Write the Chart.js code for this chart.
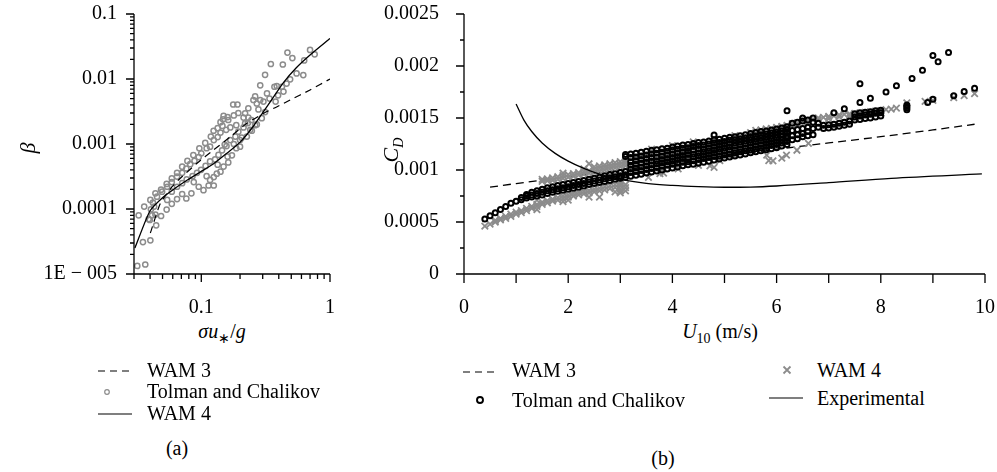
<!DOCTYPE html>
<html><head><meta charset="utf-8">
<script src="https://cdn.jsdelivr.net/npm/chart.js@4.4.1/dist/chart.umd.min.js"></script>
<style>
html,body{margin:0;padding:0;background:#fff;}
body{width:997px;height:472px;position:relative;overflow:hidden;font-family:"Liberation Serif",serif;color:#000;}
canvas{position:absolute;top:0;}
.t{position:absolute;font-family:"Liberation Serif",serif;font-size:20px;line-height:20px;white-space:nowrap;}
.ctr{transform:translateX(-50%);}
.rot{transform:translate(-50%,-50%) rotate(-90deg);font-size:22px;line-height:22px;}
.sub{font-size:14px;position:relative;top:5px;}
svg{position:absolute;overflow:visible;}
</style></head><body>
<canvas id="ca" width="360" height="320" style="left:0px"></canvas>
<canvas id="cb" width="627" height="320" style="left:370px"></canvas>

<div class="t rot" style="left:28px;top:148px;"><i>β</i></div>
<div class="t ctr" style="left:222px;top:321px;"><i>σu</i><span class="sub">∗</span>/<i>g</i></div>
<div class="t rot" style="left:392px;top:150px;"><i>C</i><span class="sub"><i>D</i></span></div>
<div class="t ctr" style="left:720px;top:321px;"><i>U</i><span class="sub">10</span> (m/s)</div>

<svg style="left:0;top:0" width="1" height="1">
  <line x1="98" y1="371" x2="132" y2="371" stroke="#000" stroke-width="1.2" stroke-dasharray="7,5"/>
  <circle cx="107" cy="392" r="2.3" fill="none" stroke="#8c8c8c" stroke-width="1.2"/>
  <line x1="98" y1="414" x2="132" y2="414" stroke="#000" stroke-width="1.2"/>
  <line x1="463" y1="372" x2="497" y2="372" stroke="#000" stroke-width="1.2" stroke-dasharray="7,5"/>
  <circle cx="480" cy="400" r="3" fill="none" stroke="#000" stroke-width="1.9"/>
  <path d="M783.5 366.5 L790.5 373.5 M790.5 366.5 L783.5 373.5" stroke="#8c8c8c" stroke-width="1.8"/>
  <line x1="769" y1="398" x2="803" y2="398" stroke="#000" stroke-width="1.2"/>
</svg>
<div class="t" style="left:147px;top:360px;">WAM 3</div>
<div class="t" style="left:147px;top:381px;">Tolman and Chalikov</div>
<div class="t" style="left:147px;top:403px;">WAM 4</div>
<div class="t ctr" style="left:177px;top:438px;">(a)</div>
<div class="t" style="left:512px;top:360px;">WAM 3</div>
<div class="t" style="left:512px;top:390px;">Tolman and Chalikov</div>
<div class="t" style="left:817px;top:360px;">WAM 4</div>
<div class="t" style="left:817px;top:388px;">Experimental</div>
<div class="t ctr" style="left:663px;top:448px;">(b)</div>

<script>
// ---------- Panel (a): growth parameter beta vs sigma u*/g ----------
const aXMin = 0.03, aXMax = 1, aYMin = 1e-5, aYMax = 0.1;
const aXLabelValues = [0.1, 1];
const aXLabels = ['0.1', '1'];
const aYLabelValues = [1e-5, 1e-4, 1e-3, 1e-2, 0.1];
const aYLabels = ['1E − 005', '0.0001', '0.001', '0.01', '0.1'];

const aWam3X = [0.0402,0.0481,0.0593,0.0687,0.0926,0.1245,0.168,0.226,0.308,0.388,0.49,0.70,1.0];
const aWam3Y = [4.27e-5,1.22e-4,2.2e-4,2.97e-4,5.05e-4,8.09e-4,1.29e-3,2.08e-3,3.0e-3,3.75e-3,4.75e-3,6.78e-3,0.01];

const aWam4X = [0.0305,0.0399,0.0507,0.0629,0.0779,0.0982,0.1239,0.159,0.2006,0.253,0.3025,0.355,0.432,0.545,0.70,1.0];
const aWam4Y = [2.51e-5,9.31e-5,1.53e-4,2.1e-4,2.79e-4,3.71e-4,4.92e-4,7.28e-4,1.07e-3,1.86e-3,3.1e-3,4.92e-3,8.67e-3,0.01476,0.0234,0.042];

const aTcPoints = [
[0.0318,1.33e-5],[0.0367,1.4e-5],[0.0352,3.1e-5],[0.0402,3.3e-5],[0.0326,8.0e-5],[0.036,1.09e-4],
[0.039,7.0e-5],[0.0402,1.38e-4],[0.0398,6.8e-5],[0.044,8.2e-5],[0.0446,5.6e-5],[0.044,1.74e-4],
[0.0487,1.98e-4],[0.0538,2.43e-4],[0.059,2.95e-4],[0.0648,3.6e-4],[0.071,4.48e-4],[0.078,5.5e-4],
[0.0867,6.75e-4],[0.0966,8.6e-4],[0.1073,1.04e-3],[0.1186,1.3e-3],[0.1246,1.6e-3],[0.146,1.9e-3],
[0.1475,2.4e-3],[0.16,2.6e-3],[0.177,4.05e-3],[0.191,4.05e-3],[0.194,3.0e-3],[0.219,2.96e-3],
[0.232,3.55e-3],[0.262,5.4e-3],[0.287,8.0e-3],[0.313,1.16e-2],[0.347,1.7e-2],[0.386,7.8e-3],
[0.43,1.67e-2],[0.467,2.55e-2],[0.51,2.1e-2],[0.70,2.8e-2],[0.76,2.4e-2],[0.63,1.93e-2],
[0.55,1.22e-2],[0.62,1.15e-2],[0.49,9.9e-3],[0.46,8.5e-3],[0.435,6.4e-3],[0.395,5.6e-3],
[0.37,7.6e-3],[0.423,7.6e-3],[0.378,4.5e-3],[0.339,5.0e-3],[0.324,6.0e-3],[0.304,4.5e-3],
[0.287,4.75e-3],[0.27,4.2e-3],[0.254,4.75e-3],[0.278,3.4e-3],[0.313,3.1e-3],[0.295,2.5e-3],
[0.27,2.0e-3],[0.247,1.6e-3],[0.226,1.3e-3],[0.2,1.15e-3],[0.2,9.1e-4],[0.187,8.6e-4],
[0.173,6.7e-4],[0.16,6.4e-4],[0.162,5.2e-4],[0.149,4.5e-4],[0.141,3.75e-4],[0.132,3.5e-4],
[0.125,3.1e-4],[0.117,2.8e-4],[0.114,2.3e-4],[0.104,1.95e-4],[0.0955,2.2e-4],[0.0874,2.6e-4],
[0.0838,1.74e-4],[0.0765,1.45e-4],[0.071,1.7e-4],[0.0648,1.42e-4],[0.059,1.2e-4],[0.0538,9.8e-5],
[0.0487,7.8e-5],[0.0543,1.38e-4],[0.059,1.85e-4],[0.0648,2.2e-4],[0.071,2.5e-4],[0.077,2.85e-4],
[0.0855,3.2e-4],[0.0926,3.6e-4],[0.0995,4.0e-4],[0.108,4.6e-4],[0.117,5.4e-4],[0.128,5.8e-4],
[0.136,6.8e-4],[0.145,8.0e-4],[0.157,9.3e-4],[0.168,1.15e-3],[0.184,1.3e-3],[0.194,1.55e-3],
[0.213,1.8e-3],[0.23,2.1e-3],[0.245,2.34e-3],[0.213,2.55e-3],[0.232,2.55e-3],[0.219,2.08e-3],
[0.187,1.95e-3],[0.168,1.8e-3],[0.156,1.65e-3],[0.141,1.5e-3],[0.134,1.28e-3],[0.125,1.15e-3],
[0.117,9.1e-4],[0.11,8.6e-4],[0.1,7.2e-4],[0.0955,6.3e-4],[0.0885,5.5e-4],[0.082,4.9e-4],
[0.0765,4.2e-4],[0.071,3.6e-4],[0.0648,3.15e-4],[0.059,2.6e-4],[0.0543,2.2e-4],[0.0496,1.85e-4],
[0.0453,1.55e-4],[0.0421,1.25e-4],[0.0406,9.9e-5],[0.043,1.09e-4],[0.0414,8.0e-5],[0.149,2.7e-3],
[0.141,2.17e-3],[0.162,2.34e-3],[0.179,2.75e-3],[0.134,1.75e-3],[0.152,9.8e-4],[0.179,1.0e-3],
[0.206,1.25e-3],[0.24,1.65e-3],[0.262,1.95e-3],[0.125,2.3e-4],[0.11,3.2e-4],[0.134,4.8e-4]
];

// ---------- Panel (b): drag coefficient vs U10 ----------
const bXMin = 0, bXMax = 10, bYMin = 0, bYMax = 0.0025;
const bXLabelValues = [0, 2, 4, 6, 8, 10];
const bXLabels = ['0', '2', '4', '6', '8', '10'];
const bYLabelValues = [0, 0.0005, 0.001, 0.0015, 0.002, 0.0025];
const bYLabels = ['0', '0.0005', '0.001', '0.0015', '0.002', '0.0025'];

const bWam3U = [0.5,1,2,3,4,5,6,7,8,9,9.8];
const bWam3Cd = [8.35e-4,8.7e-4,9.35e-4,1.0e-3,1.06e-3,1.13e-3,1.2e-3,1.26e-3,1.32e-3,1.385e-3,1.44e-3];

const bExpU = [1.0,1.15,1.3,1.5,1.75,2.0,2.3,2.6,3.0,3.5,4.0,4.5,5.0,5.5,6.0,7.0,8.2,9.94];
const bExpCd = [1.635e-3,1.48e-3,1.37e-3,1.26e-3,1.16e-3,1.085e-3,1.015e-3,9.6e-4,9.1e-4,8.72e-4,8.52e-4,8.4e-4,8.34e-4,8.36e-4,8.46e-4,8.78e-4,9.2e-4,9.62e-4];

// each column: [U10, Cd, Cd, ...]
const bTcColumns = [
[0.4,5.3e-4],[0.5,5.6e-4],[0.6,5.9e-4],[0.7,6.2e-4],[0.8,6.5e-4],[0.9,6.8e-4],[1.0,7.0e-4],
[1.1,7.15e-4,7.35e-4],[1.2,7.3e-4,7.5e-4,7.65e-4],[1.3,7.4e-4,7.6e-4,7.85e-4],
[1.4,7.5e-4,7.75e-4,8.0e-4],[1.5,7.6e-4,7.85e-4,8.15e-4],[1.6,7.75e-4,8.0e-4,8.3e-4],
[1.7,7.85e-4,8.1e-4,8.4e-4],[1.8,7.95e-4,8.2e-4,8.5e-4],[1.9,8.05e-4,8.3e-4,8.6e-4],
[2.0,8.15e-4,8.4e-4,8.7e-4],[2.1,8.25e-4,8.5e-4,8.8e-4],[2.2,8.35e-4,8.6e-4,8.9e-4],
[2.3,8.45e-4,8.7e-4,9.0e-4],[2.4,8.6e-4,8.85e-4,9.1e-4],[2.5,8.7e-4,8.95e-4,9.2e-4],
[2.6,8.8e-4,9.05e-4,9.3e-4],[2.7,8.9e-4,9.15e-4,9.45e-4],[2.8,9.0e-4,9.25e-4,9.55e-4],
[2.9,9.1e-4,9.35e-4,9.65e-4],[3.0,9.2e-4,9.45e-4,9.75e-4],[3.1,9.3e-4,9.55e-4,9.85e-4,1.13e-3,1.15e-3],
[3.2,9.4e-4,9.75e-4,1.01e-3,1.045e-3,1.08e-3,1.12e-3,1.155e-3],
[3.3,9.5e-4,9.85e-4,1.02e-3,1.055e-3,1.09e-3,1.125e-3,1.16e-3],
[3.4,9.6e-4,9.95e-4,1.03e-3,1.065e-3,1.1e-3,1.135e-3,1.17e-3],
[3.5,9.7e-4,1.005e-3,1.04e-3,1.075e-3,1.11e-3,1.145e-3,1.18e-3],
[3.6,9.8e-4,1.015e-3,1.05e-3,1.085e-3,1.12e-3,1.155e-3,1.19e-3],
[3.7,9.9e-4,1.025e-3,1.06e-3,1.09e-3,1.125e-3,1.16e-3,1.195e-3],
[3.8,1.0e-3,1.035e-3,1.07e-3,1.1e-3,1.135e-3,1.17e-3,1.205e-3],
[3.9,1.01e-3,1.045e-3,1.08e-3,1.11e-3,1.145e-3,1.18e-3,1.21e-3],
[4.0,1.02e-3,1.055e-3,1.09e-3,1.12e-3,1.155e-3,1.19e-3,1.22e-3],
[4.1,1.03e-3,1.065e-3,1.1e-3,1.13e-3,1.165e-3,1.2e-3,1.23e-3],
[4.2,1.04e-3,1.075e-3,1.11e-3,1.14e-3,1.175e-3,1.21e-3,1.24e-3],
[4.3,1.05e-3,1.08e-3,1.115e-3,1.15e-3,1.18e-3,1.215e-3,1.245e-3],
[4.4,1.055e-3,1.09e-3,1.125e-3,1.155e-3,1.19e-3,1.225e-3,1.255e-3],
[4.5,1.065e-3,1.1e-3,1.135e-3,1.165e-3,1.2e-3,1.235e-3,1.265e-3],
[4.6,1.075e-3,1.11e-3,1.14e-3,1.175e-3,1.205e-3,1.24e-3,1.27e-3],
[4.7,1.085e-3,1.12e-3,1.15e-3,1.185e-3,1.215e-3,1.25e-3,1.28e-3],
[4.8,1.095e-3,1.13e-3,1.16e-3,1.195e-3,1.225e-3,1.26e-3,1.29e-3,1.336e-3],
[4.9,1.105e-3,1.135e-3,1.17e-3,1.2e-3,1.235e-3,1.265e-3,1.295e-3],
[5.0,1.115e-3,1.145e-3,1.18e-3,1.21e-3,1.245e-3,1.275e-3,1.305e-3],
[5.1,1.125e-3,1.155e-3,1.19e-3,1.22e-3,1.255e-3,1.285e-3,1.315e-3],
[5.2,1.135e-3,1.165e-3,1.195e-3,1.23e-3,1.26e-3,1.29e-3,1.32e-3],
[5.3,1.145e-3,1.175e-3,1.205e-3,1.24e-3,1.27e-3,1.3e-3,1.33e-3],
[5.4,1.155e-3,1.185e-3,1.215e-3,1.25e-3,1.28e-3,1.31e-3,1.34e-3],
[5.5,1.165e-3,1.195e-3,1.225e-3,1.26e-3,1.29e-3,1.32e-3,1.35e-3],
[5.6,1.175e-3,1.205e-3,1.235e-3,1.27e-3,1.3e-3,1.33e-3,1.36e-3],
[5.7,1.185e-3,1.215e-3,1.245e-3,1.28e-3,1.31e-3,1.34e-3,1.37e-3],
[5.8,1.195e-3,1.225e-3,1.255e-3,1.285e-3,1.315e-3,1.345e-3,1.375e-3],
[5.9,1.205e-3,1.235e-3,1.265e-3,1.295e-3,1.325e-3,1.355e-3,1.385e-3],
[6.0,1.215e-3,1.245e-3,1.275e-3,1.305e-3,1.335e-3,1.365e-3,1.395e-3],
[6.1,1.23e-3,1.26e-3,1.29e-3,1.32e-3,1.345e-3,1.375e-3,1.405e-3],
[6.2,1.245e-3,1.275e-3,1.305e-3,1.33e-3,1.36e-3,1.39e-3,1.415e-3,1.57e-3],
[6.3,1.29e-3,1.33e-3,1.38e-3,1.45e-3],[6.4,1.3e-3,1.34e-3,1.39e-3,1.46e-3],
[6.5,1.32e-3,1.35e-3,1.4e-3,1.47e-3,1.5e-3],[6.6,1.33e-3,1.37e-3,1.41e-3,1.48e-3],
[6.7,1.34e-3,1.4e-3,1.46e-3,1.5e-3],[6.8,1.41e-3,1.45e-3],[6.9,1.4e-3,1.43e-3],
[7.0,1.405e-3,1.435e-3],[7.1,1.41e-3,1.44e-3,1.55e-3],[7.2,1.42e-3,1.45e-3],
[7.3,1.43e-3,1.46e-3,1.59e-3],[7.4,1.44e-3,1.47e-3],[7.5,1.48e-3,1.51e-3,1.54e-3],
[7.6,1.485e-3,1.52e-3,1.55e-3,1.65e-3,1.83e-3],[7.7,1.495e-3,1.53e-3,1.555e-3],
[7.8,1.5e-3,1.535e-3,1.56e-3,1.69e-3],[7.9,1.51e-3,1.545e-3,1.57e-3],[8.0,1.52e-3,1.55e-3,1.575e-3],
[8.1,1.75e-3],[8.3,1.81e-3],[8.5,1.58e-3,1.595e-3,1.61e-3,1.625e-3],[8.6,1.88e-3],
[8.8,1.96e-3],[8.9,1.65e-3],[9.0,1.68e-3,2.1e-3],[9.1,2.04e-3],[9.3,2.13e-3],
[9.4,1.715e-3],[9.6,1.755e-3],[9.8,1.785e-3]
];

const bWam4Columns = [
[0.4,4.6e-4],[0.5,4.8e-4],[0.6,5.0e-4,5.15e-4],[0.7,5.2e-4,5.35e-4],[0.8,5.35e-4,5.55e-4],
[0.9,5.55e-4,5.75e-4],[1.0,5.75e-4,5.95e-4],[1.1,5.9e-4,6.1e-4],[1.2,6.1e-4,6.3e-4],
[1.3,6.3e-4,6.5e-4],[1.4,6.2e-4,6.5e-4,6.7e-4,7.1e-4],
[1.5,6.7e-4,6.9e-4,8.9e-4,9.1e-4],[1.6,6.85e-4,7.05e-4,8.95e-4,9.15e-4],
[1.7,7.0e-4,7.2e-4,9.0e-4,9.25e-4],[1.8,7.1e-4,7.35e-4,9.1e-4,9.35e-4],
[1.9,6.95e-4,7.25e-4,7.5e-4,9.2e-4,9.45e-4,9.7e-4],[2.0,7.1e-4,7.4e-4,7.6e-4,9.3e-4,9.55e-4],
[2.1,7.5e-4,7.75e-4,9.4e-4,9.65e-4],[2.2,7.6e-4,7.85e-4,9.5e-4,9.75e-4],
[2.3,7.7e-4,7.95e-4,9.6e-4,9.85e-4,1.01e-3],[2.4,7.4e-4,7.8e-4,8.05e-4,9.7e-4,9.95e-4,1.06e-3],
[2.5,7.9e-4,8.15e-4,9.8e-4,1.005e-3,1.03e-3],[2.6,7.4e-4,8.0e-4,8.25e-4,9.9e-4,1.015e-3,1.04e-3],
[2.7,8.1e-4,8.4e-4,1.0e-3,1.025e-3,1.05e-3],[2.8,8.2e-4,8.5e-4,1.01e-3,1.035e-3,1.06e-3],
[2.9,7.9e-4,8.3e-4,8.6e-4,1.02e-3,1.045e-3,1.07e-3],
[3.0,7.8e-4,8.0e-4,8.2e-4,8.5e-4,8.7e-4,8.9e-4,1.03e-3,1.055e-3,1.08e-3],
[3.1,8.0e-4,8.3e-4,8.6e-4,1.04e-3,1.065e-3,1.09e-3],
[3.54,9.3e-4],[3.76,9.65e-4],[3.83,9.7e-4],[4.11,1.01e-3],[4.5,1.045e-3],[4.72,1.04e-3],
[4.8,1.025e-3],[4.91,1.09e-3],[5.0,1.15e-3],[5.17,1.14e-3],[5.2,1.15e-3],[5.81,1.144e-3],
[5.85,1.09e-3],[5.93,1.088e-3],[6.1,1.115e-3],[6.19,1.144e-3],[6.39,1.19e-3],[6.61,1.256e-3],
[3.6,1.2e-3],[4.0,1.235e-3],[4.4,1.27e-3],[4.8,1.3e-3],[5.2,1.33e-3],[5.5,1.36e-3],
[5.6,1.38e-3],[5.7,1.385e-3],[5.8,1.395e-3],[5.9,1.4e-3],[6.0,1.41e-3,1.39e-3],[6.1,1.42e-3],
[6.2,1.43e-3,1.41e-3],[6.3,1.445e-3],[6.4,1.455e-3,1.435e-3],[6.5,1.47e-3],[6.6,1.48e-3,1.46e-3],
[6.7,1.49e-3],[6.8,1.5e-3,1.48e-3],[6.9,1.505e-3],[7.0,1.515e-3,1.495e-3],[7.1,1.52e-3],
[7.2,1.53e-3,1.51e-3],[7.3,1.535e-3],[7.4,1.54e-3,1.52e-3],[7.5,1.545e-3],[7.6,1.55e-3,1.53e-3],
[7.7,1.555e-3],[7.8,1.56e-3,1.54e-3],[7.9,1.565e-3],[8.0,1.57e-3,1.55e-3],[8.1,1.58e-3],
[8.2,1.585e-3],[8.3,1.595e-3],[8.5,1.645e-3],[8.85,1.66e-3],[9.0,1.67e-3],[9.4,1.695e-3],
[9.6,1.715e-3],[9.8,1.735e-3]
];

// ---------- helpers ----------
const toXY = (xs, ys) => xs.map((x, i) => ({x: x, y: ys[i]}));
const colsToXY = cols => cols.flatMap(c => c.slice(1).map(v => ({x: c[0], y: v})));
const labelFor = (vals, labels, v) => { for (let i = 0; i < vals.length; i++) { const ref = vals[i]; const tol = ref === 0 ? 1e-12 : Math.abs(ref) * 1e-6; if (Math.abs(ref - v) <= tol) return labels[i]; } return ''; };
const logTickValues = (min, max) => { const out = []; for (let e = Math.floor(Math.log10(min)); e <= Math.ceil(Math.log10(max)); e++) for (let m = 1; m < 10; m++) { const v = +(m * Math.pow(10, e)).toPrecision(8); if (v >= min * 0.9999 && v <= max * 1.0001) out.push(v); } return out; };
const isPow10 = v => Math.abs(Math.log10(v) - Math.round(Math.log10(v))) < 1e-6;

function axisPlugin(cfg) {
  return {
    id: 'axisTicks',
    afterDraw(chart) {
      const ctx = chart.ctx, ca = chart.chartArea, xs = chart.scales.x, ys = chart.scales.y;
      ctx.save();
      ctx.strokeStyle = '#000'; ctx.lineWidth = 1.3;
      ctx.beginPath();
      ctx.moveTo(ca.left, ca.top); ctx.lineTo(ca.left, ca.bottom); ctx.lineTo(ca.right, ca.bottom);
      xs.ticks.forEach(t => { const p = xs.getPixelForValue(t.value); const L = cfg.xMajor(t.value) ? cfg.xMajLen : cfg.xMinLen; ctx.moveTo(p, ca.bottom); ctx.lineTo(p, ca.bottom + L); });
      ys.ticks.forEach(t => { const p = ys.getPixelForValue(t.value); const L = cfg.yMajor(t.value) ? cfg.yMajLen : cfg.yMinLen; ctx.moveTo(ca.left, p); ctx.lineTo(ca.left - L, p); });
      ctx.stroke();
      ctx.restore();
    }
  };
}

const tickFont = {family: '"Liberation Serif", serif', size: 20};
Chart.defaults.color = '#000';
const fitX = h => s => { s.height = h; s.paddingLeft = 0; s.paddingRight = 0; };
const fitY = w => s => { s.width = w; s.paddingTop = 0; s.paddingBottom = 0; };

// ---------- chart (a) ----------
new Chart(document.getElementById('ca'), {
  type: 'scatter',
  data: { datasets: [
    { label: 'WAM 3', data: toXY(aWam3X, aWam3Y), showLine: true, borderColor: '#000', borderWidth: 1.2, borderDash: [7, 5], pointRadius: 0, fill: false, tension: 0.2 },
    { label: 'WAM 4', data: toXY(aWam4X, aWam4Y), showLine: true, borderColor: '#000', borderWidth: 1.3, pointRadius: 0, fill: false, tension: 0.2 },
    { label: 'Tolman and Chalikov', data: aTcPoints.map(p => ({x: p[0], y: p[1]})), showLine: false, pointRadius: 2.6, pointBorderWidth: 1.5, pointBorderColor: '#8c8c8c', pointBackgroundColor: 'rgba(0,0,0,0)' }
  ]},
  options: {
    responsive: false, animation: false, devicePixelRatio: 1,
    layout: { padding: { left: 0, top: 14, right: 30, bottom: 0 } },
    plugins: { legend: { display: false }, tooltip: { enabled: false } },
    scales: {
      x: { type: 'logarithmic', min: aXMin, max: aXMax, grid: { display: false }, border: { display: false },
           afterBuildTicks: s => { s.ticks = logTickValues(aXMin, aXMax).map(v => ({value: v})); },
           afterFit: fitX(46),
           ticks: { autoSkip: false, maxRotation: 0, padding: 14, font: tickFont, color: '#000', callback: v => labelFor(aXLabelValues, aXLabels, v) } },
      y: { type: 'logarithmic', min: aYMin, max: aYMax, grid: { display: false }, border: { display: false },
           afterBuildTicks: s => { s.ticks = logTickValues(aYMin, aYMax).map(v => ({value: v})); },
           afterFit: fitY(134),
           ticks: { autoSkip: false, padding: 9, font: tickFont, color: '#000', callback: v => labelFor(aYLabelValues, aYLabels, v) } }
    }
  },
  plugins: [axisPlugin({ xMajor: isPow10, yMajor: isPow10, xMajLen: 8, xMinLen: 5, yMajLen: 8, yMinLen: 4 })]
});

// ---------- chart (b) ----------
new Chart(document.getElementById('cb'), {
  type: 'scatter',
  data: { datasets: [
    { label: 'Experimental', data: toXY(bExpU, bExpCd), showLine: true, borderColor: '#000', borderWidth: 1.3, pointRadius: 0, fill: false, cubicInterpolationMode: 'monotone' },
    { label: 'Tolman and Chalikov', data: colsToXY(bTcColumns), showLine: false, pointRadius: 2.5, pointBorderWidth: 2.0, pointBorderColor: '#000', pointBackgroundColor: 'rgba(0,0,0,0)' },
    { label: 'WAM 4', data: colsToXY(bWam4Columns), showLine: false, pointStyle: 'crossRot', pointRadius: 4.6, pointBorderWidth: 1.8, pointBorderColor: '#8c8c8c', pointBackgroundColor: '#8c8c8c' },
    { label: 'WAM 3', data: toXY(bWam3U, bWam3Cd), showLine: true, borderColor: '#000', borderWidth: 1.3, borderDash: [8, 5], pointRadius: 0, fill: false }
  ]},
  options: {
    responsive: false, animation: false, devicePixelRatio: 1,
    layout: { padding: { left: 0, top: 14, right: 12, bottom: 0 } },
    plugins: { legend: { display: false }, tooltip: { enabled: false } },
    scales: {
      x: { type: 'linear', min: bXMin, max: bXMax, grid: { display: false }, border: { display: false },
           ticks: { stepSize: 1, autoSkip: false, maxRotation: 0, padding: 14, font: tickFont, color: '#000', callback: v => labelFor(bXLabelValues, bXLabels, v) },
           afterFit: fitX(46) },
      y: { type: 'linear', min: bYMin, max: bYMax, grid: { display: false }, border: { display: false },
           ticks: { stepSize: 0.00025, autoSkip: false, padding: 17, font: tickFont, color: '#000', callback: v => labelFor(bYLabelValues, bYLabels, v) },
           afterFit: fitY(94) }
    }
  },
  plugins: [axisPlugin({ xMajor: v => true, yMajor: v => Math.round(v / 0.00025) % 2 === 0, xMajLen: 9, xMinLen: 9, yMajLen: 8, yMinLen: 4 })]
});
</script>
</body></html>
